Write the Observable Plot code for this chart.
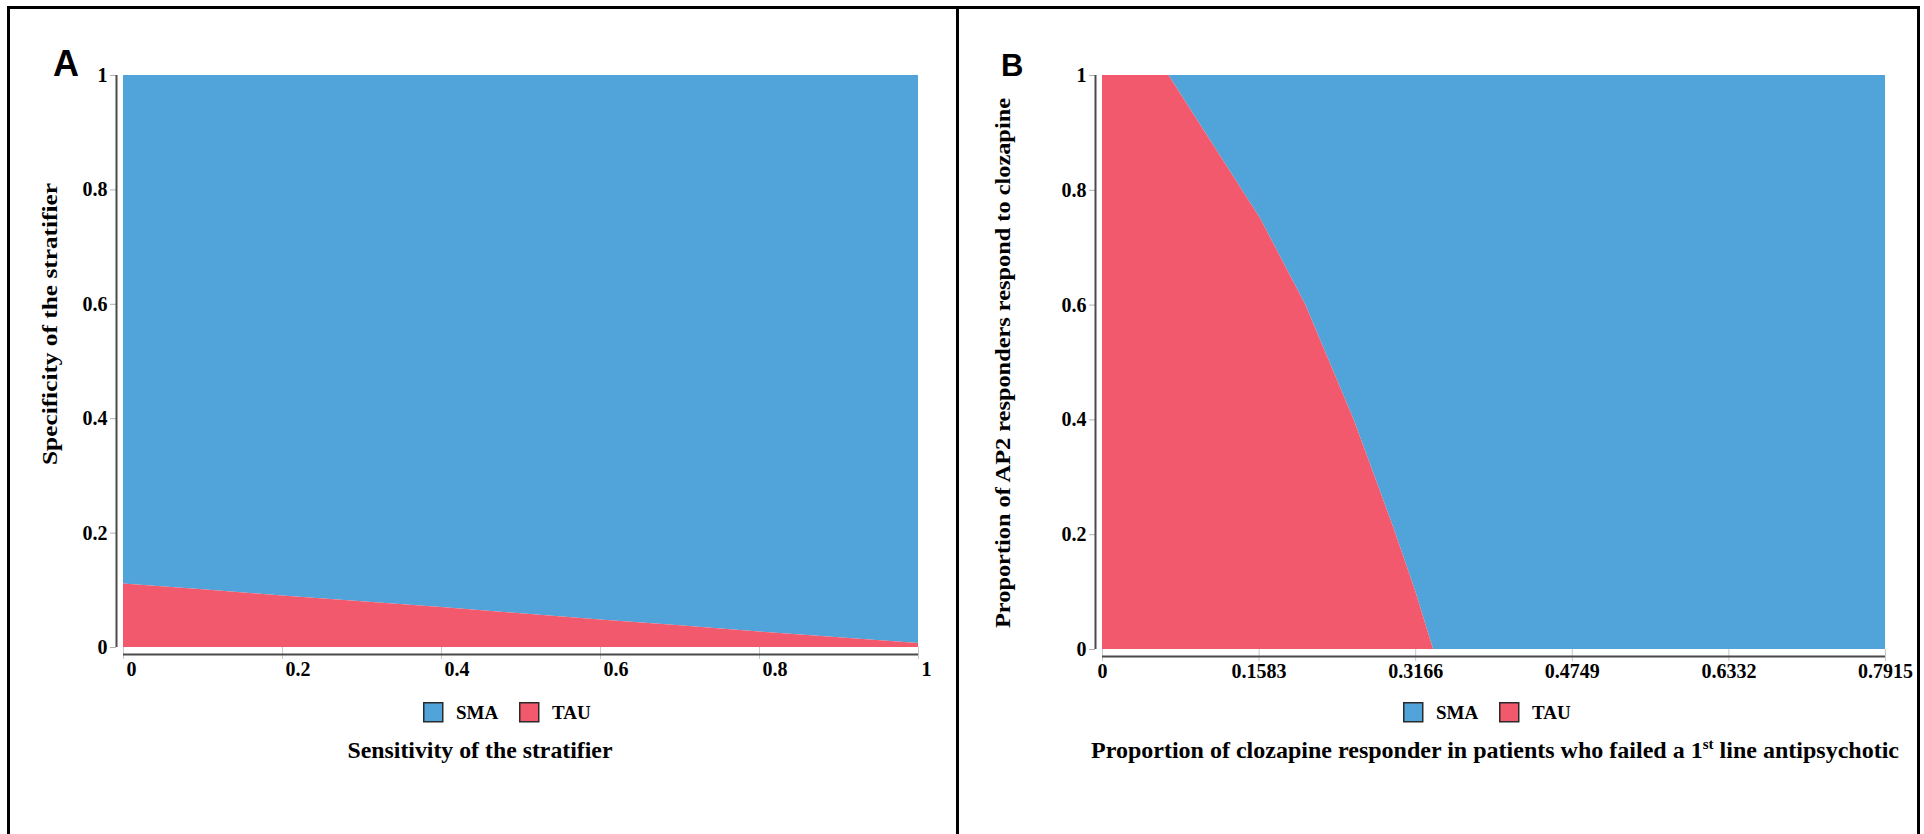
<!DOCTYPE html>
<html><head><meta charset="utf-8">
<script src="https://cdn.jsdelivr.net/npm/d3@7"></script>
<script src="https://cdn.jsdelivr.net/npm/@observablehq/plot@0.6"></script>
<style>
html,body{margin:0;padding:0;background:#fff;width:1924px;height:834px;overflow:hidden;}
.abs{position:absolute;}
</style></head><body>
<div id="plotA" class="abs" style="left:0;top:0"></div>
<div id="plotB" class="abs" style="left:960px;top:0"></div>
<svg id="overlay" class="abs" style="left:0;top:0" width="1924" height="834"></svg>
<div class="abs" style="left:7px;top:6px;width:1907px;height:840px;border:3px solid #000;border-bottom:none;"></div>
<div class="abs" style="left:956px;top:6px;width:3px;height:840px;background:#000"></div>
<script>
// ---- data ----
const series = ["SMA", "TAU"];
const seriesColors = ["#50A4DA", "#F2596C"];

// Panel A: TAU region lies below the threshold specificity for each sensitivity
const sensitivity = [0, 0.1, 0.2, 0.3, 0.4, 0.5, 0.6, 0.7, 0.8, 0.9, 1];
const specificityThresholdA = [0.111, 0.101, 0.090, 0.080, 0.070, 0.059, 0.048, 0.038, 0.027, 0.017, 0.007];
const xTicksA = [0, 0.2, 0.4, 0.6, 0.8, 1];
const xTickLabelsA = ["0", "0.2", "0.4", "0.6", "0.8", "1"];
const yTicks = [0, 0.2, 0.4, 0.6, 0.8, 1];
const yTickLabels = ["0", "0.2", "0.4", "0.6", "0.8", "1"];

// Panel B: TAU region lies left of the threshold clozapine proportion for each AP2 proportion
const ap2Proportion = [1, 0.8, 0.75, 0.6, 0.4, 0.21, 0.1, 0];
const clozapineThresholdB = [0.0671, 0.1414, 0.160, 0.2055, 0.2544, 0.2949, 0.3168, 0.3347];
const xTicksB = [0, 0.1583, 0.3166, 0.4749, 0.6332, 0.7915];
const xTickLabelsB = ["0", "0.1583", "0.3166", "0.4749", "0.6332", "0.7915"];
const xMaxB = 0.7915;

const titleA = {label: "A", x: "Sensitivity of the stratifier", y: "Specificity of the stratifier"};
const titleB = {label: "B", x1: "Proportion of clozapine responder in patients who failed a 1", sup: "st", x2: " line antipsychotic", y: "Proportion of AP2 responders respond to clozapine"};

// ---- drawing ----
const serif = "'Liberation Serif', 'Times New Roman', serif";
const sans = "'Liberation Sans', Arial, sans-serif";
const axisCol = "#4a4a4a";
const tickFont = 20;

const rowsA = sensitivity.map((x, i) => ({x, b: specificityThresholdA[i]}));
const plotA = Plot.plot({
  width: 940, height: 700,
  marginLeft: 123, marginRight: 22, marginTop: 75, marginBottom: 53,
  x: {domain: [0, 1], axis: null},
  y: {domain: [0, 1], axis: null},
  style: {background: "transparent", fontFamily: serif, overflow: "visible"},
  marks: [
    Plot.areaY(rowsA, {x: "x", y1: "b", y2: 1, fill: seriesColors[0]}),
    Plot.areaY(rowsA, {x: "x", y1: 0, y2: "b", fill: seriesColors[1]}),
    Plot.axisX({ticks: xTicksA, tickSize: 12, stroke: "#c8c8c8", fill: "none", label: null}),
    Plot.axisY({ticks: yTicks, tickSize: 6, dx: -7, tickPadding: 3, stroke: "#b0b0b0", fill: "#000",
      tickFormat: d => yTickLabels[yTicks.indexOf(d)], fontSize: tickFont, fontWeight: "bold", label: null}),
    Plot.ruleX([0], {x: d => d, y1: 0, y2: 1, dx: -7, stroke: axisCol, strokeWidth: 2}),
    Plot.ruleY([0], {y: d => d, x1: 0, x2: 1, dy: 7, stroke: axisCol, strokeWidth: 2}),
    Plot.text(xTicksA, {x: d => d, text: (d, i) => xTickLabelsA[i], frameAnchor: "bottom", dy: 28, dx: 3,
      textAnchor: "start", fontSize: tickFont, fontWeight: "bold", fill: "#000"})
  ]
});
document.getElementById("plotA").appendChild(plotA);

const rowsB = ap2Proportion.map((y, i) => ({y, b: clozapineThresholdB[i]}));
const plotB = Plot.plot({
  width: 960, height: 700,
  marginLeft: 142, marginRight: 35, marginTop: 75, marginBottom: 51,
  x: {domain: [0, xMaxB], axis: null},
  y: {domain: [0, 1], axis: null},
  style: {background: "transparent", fontFamily: serif, overflow: "visible"},
  marks: [
    Plot.areaX(rowsB, {y: "y", x1: "b", x2: xMaxB, fill: seriesColors[0]}),
    Plot.areaX(rowsB, {y: "y", x1: 0, x2: "b", fill: seriesColors[1]}),
    Plot.axisX({ticks: xTicksB, tickSize: 12, stroke: "#c8c8c8", fill: "none", label: null}),
    Plot.axisY({ticks: yTicks, tickSize: 6, dx: -7, tickPadding: 3, stroke: "#b0b0b0", fill: "#000",
      tickFormat: d => yTickLabels[yTicks.indexOf(d)], fontSize: tickFont, fontWeight: "bold", label: null}),
    Plot.ruleX([0], {x: d => d, y1: 0, y2: 1, dx: -7, stroke: axisCol, strokeWidth: 2}),
    Plot.ruleY([0], {y: d => d, x1: 0, x2: xMaxB, dy: 7, stroke: axisCol, strokeWidth: 2}),
    Plot.text(xTicksB, {x: d => d, text: (d, i) => xTickLabelsB[i], frameAnchor: "bottom", dy: 28,
      textAnchor: "middle", fontSize: tickFont, fontWeight: "bold", fill: "#000"})
  ]
});
document.getElementById("plotB").appendChild(plotB);

// ---- overlay text: panel letters, axis titles, legends ----
const ov = d3.select("#overlay");
ov.append("text").attr("x", 53).attr("y", 76).attr("font-family", sans).attr("font-weight", "bold")
  .attr("font-size", 36).text(titleA.label);
ov.append("text").attr("x", 1001).attr("y", 76).attr("font-family", sans).attr("font-weight", "bold")
  .attr("font-size", 31).text(titleB.label);

function yTitle(cx, cy, len, str) {
  ov.append("text").attr("transform", `translate(${cx},${cy}) rotate(-90)`).attr("text-anchor", "middle")
    .attr("font-family", serif).attr("font-weight", "bold").attr("font-size", 22)
    .attr("textLength", len).attr("lengthAdjust", "spacingAndGlyphs").text(str);
}
yTitle(57, 324, 282, titleA.y);
yTitle(1010, 363, 530, titleB.y);

ov.append("text").attr("x", 480).attr("y", 758).attr("text-anchor", "middle")
  .attr("font-family", serif).attr("font-weight", "bold").attr("font-size", 24)
  .attr("textLength", 265).attr("lengthAdjust", "spacingAndGlyphs").text(titleA.x);

const tB = ov.append("text").attr("x", 1495).attr("y", 758).attr("text-anchor", "middle")
  .attr("font-family", serif).attr("font-weight", "bold").attr("font-size", 24)
  .attr("textLength", 808).attr("lengthAdjust", "spacingAndGlyphs");
tB.append("tspan").text(titleB.x1);
tB.append("tspan").attr("font-size", 15).attr("dy", -9).text(titleB.sup);
tB.append("tspan").attr("dy", 9).text(titleB.x2);

function legend(x0) {
  series.forEach((s, i) => {
    const x = x0 + i * 96;
    ov.append("rect").attr("x", x + 0.75).attr("y", 702.75).attr("width", 19).attr("height", 19)
      .attr("fill", seriesColors[i]).attr("stroke", "#2a2a2a").attr("stroke-width", 1.5);
    ov.append("text").attr("x", x + 33).attr("y", 719).attr("font-family", serif).attr("font-weight", "bold")
      .attr("font-size", 19).text(s);
  });
}
legend(423);
legend(1403);
</script>
</body></html>
